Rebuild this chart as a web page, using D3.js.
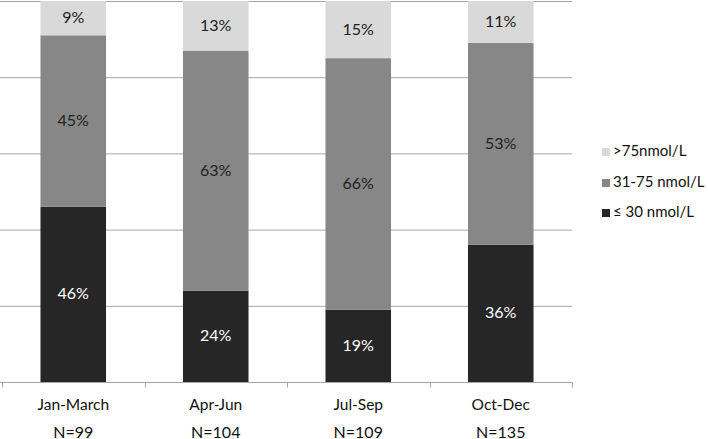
<!DOCTYPE html>
<html>
<head>
<meta charset="utf-8">
<script src="https://cdn.jsdelivr.net/npm/d3@7"></script>
<style>
  body { margin: 0; background: #fff; }
  svg { display: block; font-family: Lato, "Open Sans", sans-serif; }
</style>
</head>
<body>
<div id="container"></div>
<script>
const width = 708, height = 439;

// data
const categories = ["Jan-March", "Apr-Jun", "Jul-Sep", "Oct-Dec"];
const sampleSizes = ["N=99", "N=104", "N=109", "N=135"];
const low = [46, 24, 19, 36];      // ≤ 30 nmol/L
const mid = [45, 63, 66, 53];      // 31-75 nmol/L
const high = [9, 13, 15, 11];      // >75nmol/L
const seriesNames = ["≤ 30 nmol/L", "31-75 nmol/L", ">75nmol/L"];
const seriesColors = ["#262626", "#878787", "#d9d9d9"];
const labelColors = ["#ffffff", "#222222", "#222222"];
const yTicks = [0, 20, 40, 60, 80, 100];

const margin = {top: 1, left: 2, right: 136, bottom: 57};

const rows = categories.map((c, i) => ({cat: c, low: low[i], mid: mid[i], high: high[i]}));
const keys = ["low", "mid", "high"];
const stacked = d3.stack().keys(keys)(rows);

const svg = d3.select('#container')
    .append('svg')
    .attr('width', width)
    .attr('height', height);

const x = d3.scaleBand()
    .domain(categories)
    .range([margin.left, width - margin.right])
    .paddingInner(0.54)
    .paddingOuter(0.27);

const y = d3.scaleLinear()
    .domain([0, 100])
    .range([height - margin.bottom, margin.top]);

// gridlines
svg.append('g')
    .selectAll('line')
    .data(yTicks)
    .enter()
    .append('line')
    .attr('x1', 0)
    .attr('x2', width - margin.right)
    .attr('y1', d => y(d) + 0.5)
    .attr('y2', d => y(d) + 0.5)
    .attr('stroke', '#a6a6a6')
    .attr('stroke-width', 1);

// bars
const layers = svg.append('g')
    .selectAll('g')
    .data(stacked)
    .enter()
    .append('g')
    .attr('fill', (d, i) => seriesColors[i]);

layers.selectAll('rect')
    .data(d => d)
    .enter()
    .append('rect')
    .attr('x', d => x(d.data.cat))
    .attr('width', x.bandwidth())
    .attr('y', d => y(d[1]))
    .attr('height', d => y(d[0]) - y(d[1]));

// value labels in the segments
layers.each(function (layer, li) {
    d3.select(this).selectAll('text')
        .data(layer)
        .enter()
        .append('text')
        .attr('x', d => x(d.data.cat) + x.bandwidth() / 2)
        .attr('y', d => (y(d[0]) + y(d[1])) / 2 + 1)
        .attr('text-anchor', 'middle')
        .attr('dominant-baseline', 'middle')
        .attr('font-size', 16)
        .attr('fill', labelColors[li])
        .text(d => (d[1] - d[0]) + '%');
});

// x axis
const xAxis = svg.append('g')
    .attr('transform', `translate(0,${y(0) + 0.5})`);

xAxis.append('line')
    .attr('x1', 0)
    .attr('x2', width - margin.right)
    .attr('stroke', '#a6a6a6');

const step = x.step();
const tickXs = d3.range(categories.length + 1).map(i => margin.left + i * step);
xAxis.selectAll('.tick')
    .data(tickXs)
    .enter()
    .append('line')
    .attr('x1', d => Math.round(d) + 0.5)
    .attr('x2', d => Math.round(d) + 0.5)
    .attr('y1', 0)
    .attr('y2', 5)
    .attr('stroke', '#a6a6a6');

xAxis.selectAll('.cat')
    .data(categories)
    .enter()
    .append('text')
    .attr('x', d => x(d) + x.bandwidth() / 2)
    .attr('y', 27)
    .attr('text-anchor', 'middle')
    .attr('font-size', 15.5)
    .attr('fill', '#111')
    .text(d => d);

xAxis.selectAll('.n')
    .data(sampleSizes)
    .enter()
    .append('text')
    .attr('x', (d, i) => x(categories[i]) + x.bandwidth() / 2)
    .attr('y', 55)
    .attr('text-anchor', 'middle')
    .attr('font-size', 16)
    .attr('fill', '#111')
    .text(d => d);

// legend (top entry is the top segment)
const legendYs = [213, 183, 152];
const legend = svg.append('g')
    .selectAll('g')
    .data(seriesNames)
    .enter()
    .append('g')
    .attr('transform', (d, i) => `translate(602,${legendYs[i]})`);

legend.append('rect')
    .attr('x', 0)
    .attr('y', -4)
    .attr('width', 8)
    .attr('height', 8)
    .attr('fill', (d, i) => seriesColors[i]);

legend.append('text')
    .attr('x', 11)
    .attr('y', 0)
    .attr('dominant-baseline', 'middle')
    .attr('font-size', 15)
    .attr('fill', '#111')
    .text(d => d);
</script>
</body>
</html>
